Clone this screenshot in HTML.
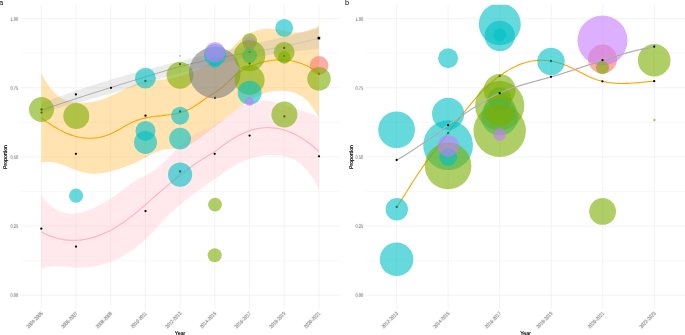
<!DOCTYPE html>
<html><head><meta charset="utf-8"><title>Chart</title>
<style>
html,body{margin:0;padding:0;background:#fff;}
body{width:685px;height:335px;overflow:hidden;font-family:"Liberation Sans",sans-serif;}
svg{display:block;font-family:"Liberation Sans",sans-serif;}
text{text-rendering:geometricPrecision;}
</style></head><body>
<svg width="685" height="335" viewBox="0 0 685 335">
<rect width="685" height="335" fill="#ffffff"/>
<line x1="20.59" x2="339.73" y1="295.20" y2="295.20" stroke="#e9e9e9" stroke-width="0.55"/>
<line x1="20.59" x2="339.73" y1="260.62" y2="260.62" stroke="#e9e9e9" stroke-width="0.32"/>
<line x1="20.59" x2="339.73" y1="226.05" y2="226.05" stroke="#e9e9e9" stroke-width="0.55"/>
<line x1="20.59" x2="339.73" y1="191.47" y2="191.47" stroke="#e9e9e9" stroke-width="0.32"/>
<line x1="20.59" x2="339.73" y1="156.90" y2="156.90" stroke="#e9e9e9" stroke-width="0.55"/>
<line x1="20.59" x2="339.73" y1="122.32" y2="122.32" stroke="#e9e9e9" stroke-width="0.32"/>
<line x1="20.59" x2="339.73" y1="87.75" y2="87.75" stroke="#e9e9e9" stroke-width="0.55"/>
<line x1="20.59" x2="339.73" y1="53.17" y2="53.17" stroke="#e9e9e9" stroke-width="0.32"/>
<line x1="20.59" x2="339.73" y1="18.60" y2="18.60" stroke="#e9e9e9" stroke-width="0.55"/>
<line x1="41.40" x2="41.40" y1="4.77" y2="309.03" stroke="#e9e9e9" stroke-width="0.55"/>
<line x1="76.09" x2="76.09" y1="4.77" y2="309.03" stroke="#e9e9e9" stroke-width="0.55"/>
<line x1="110.78" x2="110.78" y1="4.77" y2="309.03" stroke="#e9e9e9" stroke-width="0.55"/>
<line x1="145.47" x2="145.47" y1="4.77" y2="309.03" stroke="#e9e9e9" stroke-width="0.55"/>
<line x1="180.16" x2="180.16" y1="4.77" y2="309.03" stroke="#e9e9e9" stroke-width="0.55"/>
<line x1="214.85" x2="214.85" y1="4.77" y2="309.03" stroke="#e9e9e9" stroke-width="0.55"/>
<line x1="249.54" x2="249.54" y1="4.77" y2="309.03" stroke="#e9e9e9" stroke-width="0.55"/>
<line x1="284.23" x2="284.23" y1="4.77" y2="309.03" stroke="#e9e9e9" stroke-width="0.55"/>
<line x1="318.92" x2="318.92" y1="4.77" y2="309.03" stroke="#e9e9e9" stroke-width="0.55"/>
<line x1="365.67" x2="685.00" y1="295.20" y2="295.20" stroke="#e9e9e9" stroke-width="0.55"/>
<line x1="365.67" x2="685.00" y1="260.62" y2="260.62" stroke="#e9e9e9" stroke-width="0.32"/>
<line x1="365.67" x2="685.00" y1="226.05" y2="226.05" stroke="#e9e9e9" stroke-width="0.55"/>
<line x1="365.67" x2="685.00" y1="191.47" y2="191.47" stroke="#e9e9e9" stroke-width="0.32"/>
<line x1="365.67" x2="685.00" y1="156.90" y2="156.90" stroke="#e9e9e9" stroke-width="0.55"/>
<line x1="365.67" x2="685.00" y1="122.32" y2="122.32" stroke="#e9e9e9" stroke-width="0.32"/>
<line x1="365.67" x2="685.00" y1="87.75" y2="87.75" stroke="#e9e9e9" stroke-width="0.55"/>
<line x1="365.67" x2="685.00" y1="53.17" y2="53.17" stroke="#e9e9e9" stroke-width="0.32"/>
<line x1="365.67" x2="685.00" y1="18.60" y2="18.60" stroke="#e9e9e9" stroke-width="0.55"/>
<line x1="396.60" x2="396.60" y1="4.77" y2="309.03" stroke="#e9e9e9" stroke-width="0.55"/>
<line x1="448.15" x2="448.15" y1="4.77" y2="309.03" stroke="#e9e9e9" stroke-width="0.55"/>
<line x1="499.70" x2="499.70" y1="4.77" y2="309.03" stroke="#e9e9e9" stroke-width="0.55"/>
<line x1="551.25" x2="551.25" y1="4.77" y2="309.03" stroke="#e9e9e9" stroke-width="0.55"/>
<line x1="602.80" x2="602.80" y1="4.77" y2="309.03" stroke="#e9e9e9" stroke-width="0.55"/>
<line x1="654.35" x2="654.35" y1="4.77" y2="309.03" stroke="#e9e9e9" stroke-width="0.55"/>
<path d="M41.50,72.71 L42.89,75.64 L44.29,78.37 L45.68,80.90 L47.08,83.24 L48.47,85.40 L49.86,87.38 L51.26,89.19 L52.65,90.84 L54.05,92.34 L55.44,93.70 L56.83,94.93 L58.23,96.02 L59.62,97.00 L61.02,97.87 L62.41,98.64 L63.80,99.31 L65.20,99.90 L66.59,100.41 L67.99,100.85 L69.38,101.23 L70.77,101.56 L72.17,101.84 L73.56,102.08 L74.96,102.29 L76.35,102.45 L77.74,102.58 L79.14,102.68 L80.53,102.73 L81.93,102.76 L83.32,102.74 L84.71,102.69 L86.11,102.61 L87.50,102.49 L88.89,102.34 L90.29,102.16 L91.68,101.95 L93.08,101.70 L94.47,101.43 L95.86,101.12 L97.26,100.78 L98.65,100.41 L100.05,100.02 L101.44,99.59 L102.83,99.14 L104.23,98.66 L105.62,98.15 L107.02,97.62 L108.41,97.06 L109.80,96.47 L111.20,95.86 L112.59,95.22 L113.99,94.56 L115.38,93.88 L116.77,93.18 L118.17,92.47 L119.56,91.74 L120.96,91.00 L122.35,90.27 L123.74,89.53 L125.14,88.79 L126.53,88.06 L127.93,87.34 L129.32,86.64 L130.71,85.95 L132.11,85.29 L133.50,84.65 L134.90,84.04 L136.29,83.46 L137.68,82.92 L139.08,82.42 L140.47,81.97 L141.87,81.56 L143.26,81.20 L144.65,80.90 L146.05,80.65 L147.44,80.46 L148.84,80.32 L150.23,80.21 L151.62,80.14 L153.02,80.08 L154.41,80.04 L155.81,80.00 L157.20,79.95 L158.59,79.89 L159.99,79.81 L161.38,79.70 L162.78,79.57 L164.17,79.41 L165.56,79.24 L166.96,79.04 L168.35,78.81 L169.75,78.57 L171.14,78.31 L172.53,78.02 L173.93,77.71 L175.32,77.39 L176.72,77.04 L178.11,76.68 L179.50,76.29 L180.90,75.89 L182.29,75.47 L183.68,75.03 L185.08,74.57 L186.47,74.09 L187.87,73.59 L189.26,73.08 L190.65,72.55 L192.05,72.00 L193.44,71.43 L194.84,70.85 L196.23,70.25 L197.62,69.63 L199.02,68.99 L200.41,68.34 L201.81,67.66 L203.20,66.97 L204.59,66.27 L205.99,65.54 L207.38,64.80 L208.78,64.05 L210.17,63.27 L211.56,62.48 L212.96,61.68 L214.35,60.85 L215.75,60.01 L217.14,59.16 L218.53,58.28 L219.93,57.40 L221.32,56.49 L222.72,55.57 L224.11,54.63 L225.50,53.64 L226.90,52.60 L228.29,51.49 L229.69,50.29 L231.08,48.99 L232.47,47.60 L233.87,46.17 L235.26,44.71 L236.66,43.27 L238.05,41.87 L239.44,40.54 L240.84,39.30 L242.23,38.16 L243.63,37.10 L245.02,36.12 L246.41,35.21 L247.81,34.39 L249.20,33.63 L250.60,32.93 L251.99,32.30 L253.38,31.72 L254.78,31.20 L256.17,30.73 L257.57,30.30 L258.96,29.92 L260.35,29.59 L261.75,29.31 L263.14,29.08 L264.54,28.89 L265.93,28.75 L267.32,28.65 L268.72,28.61 L270.11,28.61 L271.51,28.65 L272.90,28.75 L274.29,28.89 L275.69,29.07 L277.08,29.30 L278.47,29.55 L279.87,29.84 L281.26,30.14 L282.66,30.45 L284.05,30.76 L285.44,31.07 L286.84,31.37 L288.23,31.65 L289.63,31.90 L291.02,32.11 L292.41,32.29 L293.81,32.41 L295.20,32.47 L296.60,32.48 L297.99,32.42 L299.38,32.31 L300.78,32.14 L302.17,31.93 L303.57,31.65 L304.96,31.33 L306.35,30.96 L307.75,30.54 L309.14,30.08 L310.54,29.57 L311.93,29.02 L313.32,28.43 L314.72,27.80 L316.11,27.14 L317.51,26.43 L318.90,25.70 L318.90,118.00 L317.51,115.43 L316.11,112.98 L314.72,110.68 L313.32,108.52 L311.93,106.50 L310.54,104.63 L309.14,102.91 L307.75,101.34 L306.35,99.92 L304.96,98.66 L303.57,97.53 L302.17,96.54 L300.78,95.66 L299.38,94.89 L297.99,94.22 L296.60,93.63 L295.20,93.12 L293.81,92.67 L292.41,92.27 L291.02,91.92 L289.63,91.61 L288.23,91.35 L286.84,91.13 L285.44,90.95 L284.05,90.82 L282.66,90.73 L281.26,90.68 L279.87,90.68 L278.47,90.71 L277.08,90.79 L275.69,90.91 L274.29,91.06 L272.90,91.26 L271.51,91.50 L270.11,91.78 L268.72,92.10 L267.32,92.46 L265.93,92.86 L264.54,93.30 L263.14,93.77 L261.75,94.28 L260.35,94.83 L258.96,95.42 L257.57,96.05 L256.17,96.71 L254.78,97.41 L253.38,98.15 L251.99,98.92 L250.60,99.73 L249.20,100.57 L247.81,101.45 L246.41,102.36 L245.02,103.30 L243.63,104.27 L242.23,105.26 L240.84,106.27 L239.44,107.30 L238.05,108.35 L236.66,109.41 L235.26,110.49 L233.87,111.57 L232.47,112.67 L231.08,113.77 L229.69,114.87 L228.29,115.98 L226.90,117.09 L225.50,118.20 L224.11,119.31 L222.72,120.43 L221.32,121.54 L219.93,122.65 L218.53,123.75 L217.14,124.86 L215.75,125.95 L214.35,127.04 L212.96,128.13 L211.56,129.21 L210.17,130.28 L208.78,131.34 L207.38,132.40 L205.99,133.45 L204.59,134.49 L203.20,135.53 L201.81,136.55 L200.41,137.58 L199.02,138.59 L197.62,139.60 L196.23,140.59 L194.84,141.57 L193.44,142.52 L192.05,143.43 L190.65,144.29 L189.26,145.10 L187.87,145.84 L186.47,146.51 L185.08,147.09 L183.68,147.58 L182.29,147.96 L180.90,148.25 L179.50,148.46 L178.11,148.60 L176.72,148.68 L175.32,148.73 L173.93,148.76 L172.53,148.77 L171.14,148.80 L169.75,148.84 L168.35,148.93 L166.96,149.06 L165.56,149.26 L164.17,149.52 L162.78,149.84 L161.38,150.21 L159.99,150.65 L158.59,151.13 L157.20,151.67 L155.81,152.25 L154.41,152.87 L153.02,153.54 L151.62,154.24 L150.23,154.98 L148.84,155.73 L147.44,156.51 L146.05,157.29 L144.65,158.07 L143.26,158.84 L141.87,159.60 L140.47,160.34 L139.08,161.05 L137.68,161.73 L136.29,162.38 L134.90,163.00 L133.50,163.61 L132.11,164.19 L130.71,164.75 L129.32,165.29 L127.93,165.82 L126.53,166.33 L125.14,166.83 L123.74,167.31 L122.35,167.79 L120.96,168.25 L119.56,168.71 L118.17,169.16 L116.77,169.59 L115.38,170.01 L113.99,170.42 L112.59,170.81 L111.20,171.19 L109.80,171.54 L108.41,171.87 L107.02,172.19 L105.62,172.47 L104.23,172.73 L102.83,172.97 L101.44,173.17 L100.05,173.34 L98.65,173.49 L97.26,173.59 L95.86,173.67 L94.47,173.70 L93.08,173.70 L91.68,173.66 L90.29,173.58 L88.89,173.45 L87.50,173.28 L86.11,173.06 L84.71,172.79 L83.32,172.48 L81.93,172.12 L80.53,171.71 L79.14,171.27 L77.74,170.80 L76.35,170.30 L74.96,169.78 L73.56,169.24 L72.17,168.68 L70.77,168.12 L69.38,167.55 L67.99,166.99 L66.59,166.43 L65.20,165.88 L63.80,165.35 L62.41,164.83 L61.02,164.34 L59.62,163.89 L58.23,163.46 L56.83,163.08 L55.44,162.74 L54.05,162.44 L52.65,162.21 L51.26,162.03 L49.86,161.91 L48.47,161.86 L47.08,161.88 L45.68,161.98 L44.29,162.17 L42.89,162.44 L41.50,162.80Z" fill="#FFA500" fill-opacity="0.3"/>
<path d="M41.30,195.10 L42.69,197.00 L44.09,198.77 L45.48,200.43 L46.88,201.97 L48.27,203.41 L49.67,204.73 L51.06,205.95 L52.46,207.06 L53.85,208.08 L55.25,209.00 L56.64,209.83 L58.04,210.56 L59.43,211.21 L60.83,211.78 L62.22,212.27 L63.62,212.67 L65.01,213.01 L66.41,213.27 L67.80,213.46 L69.20,213.59 L70.59,213.65 L71.99,213.66 L73.38,213.61 L74.78,213.50 L76.17,213.35 L77.57,213.15 L78.96,212.90 L80.36,212.62 L81.75,212.29 L83.15,211.93 L84.54,211.54 L85.94,211.11 L87.33,210.65 L88.73,210.15 L90.12,209.63 L91.52,209.07 L92.91,208.48 L94.31,207.86 L95.70,207.22 L97.10,206.54 L98.49,205.84 L99.89,205.11 L101.28,204.36 L102.68,203.58 L104.07,202.77 L105.47,201.94 L106.86,201.09 L108.26,200.22 L109.65,199.32 L111.05,198.41 L112.44,197.47 L113.84,196.51 L115.23,195.54 L116.63,194.55 L118.02,193.54 L119.42,192.51 L120.81,191.47 L122.21,190.42 L123.60,189.36 L125.00,188.30 L126.39,187.24 L127.79,186.20 L129.18,185.17 L130.58,184.16 L131.97,183.18 L133.37,182.23 L134.76,181.32 L136.16,180.45 L137.55,179.64 L138.95,178.86 L140.34,178.12 L141.74,177.40 L143.13,176.70 L144.53,176.00 L145.92,175.30 L147.32,174.58 L148.71,173.83 L150.11,173.06 L151.50,172.23 L152.90,171.36 L154.29,170.42 L155.69,169.40 L157.08,168.31 L158.48,167.16 L159.87,165.94 L161.27,164.67 L162.66,163.35 L164.06,162.00 L165.45,160.60 L166.85,159.18 L168.24,157.73 L169.64,156.27 L171.03,154.81 L172.43,153.34 L173.82,151.87 L175.22,150.42 L176.61,148.98 L178.01,147.57 L179.40,146.18 L180.80,144.84 L182.19,143.53 L183.59,142.27 L184.98,141.05 L186.38,139.90 L187.77,138.80 L189.17,137.76 L190.56,136.79 L191.96,135.90 L193.35,135.06 L194.75,134.29 L196.14,133.56 L197.54,132.87 L198.93,132.21 L200.33,131.58 L201.72,130.97 L203.12,130.37 L204.51,129.77 L205.91,129.16 L207.30,128.54 L208.70,127.91 L210.09,127.26 L211.49,126.59 L212.88,125.89 L214.28,125.16 L215.67,124.41 L217.07,123.62 L218.46,122.80 L219.86,121.93 L221.25,121.03 L222.65,120.08 L224.04,119.08 L225.44,118.03 L226.83,116.95 L228.23,115.84 L229.62,114.71 L231.02,113.58 L232.41,112.45 L233.81,111.34 L235.20,110.25 L236.60,109.19 L237.99,108.19 L239.39,107.24 L240.78,106.36 L242.18,105.54 L243.57,104.80 L244.97,104.13 L246.36,103.52 L247.76,102.97 L249.15,102.49 L250.55,102.06 L251.94,101.69 L253.34,101.38 L254.73,101.12 L256.13,100.92 L257.52,100.76 L258.92,100.66 L260.31,100.59 L261.71,100.58 L263.10,100.60 L264.50,100.67 L265.89,100.78 L267.29,100.92 L268.68,101.09 L270.08,101.30 L271.47,101.55 L272.87,101.82 L274.26,102.11 L275.66,102.44 L277.05,102.78 L278.45,103.15 L279.84,103.54 L281.24,103.94 L282.63,104.36 L284.03,104.80 L285.42,105.24 L286.82,105.70 L288.21,106.17 L289.61,106.64 L291.00,107.11 L292.40,107.59 L293.79,108.08 L295.19,108.56 L296.58,109.04 L297.98,109.51 L299.37,109.98 L300.77,110.44 L302.16,110.90 L303.56,111.34 L304.95,111.77 L306.35,112.19 L307.74,112.59 L309.14,112.99 L310.53,113.41 L311.93,113.89 L313.32,114.44 L314.72,115.10 L316.11,115.89 L317.51,116.84 L318.90,117.98 L318.90,188.90 L317.51,186.16 L316.11,183.58 L314.72,181.15 L313.32,178.86 L311.93,176.72 L310.53,174.71 L309.14,172.83 L307.74,171.08 L306.35,169.45 L304.95,167.93 L303.56,166.53 L302.16,165.23 L300.77,164.04 L299.37,162.94 L297.98,161.94 L296.58,161.02 L295.19,160.19 L293.79,159.44 L292.40,158.76 L291.00,158.15 L289.61,157.61 L288.21,157.13 L286.82,156.70 L285.42,156.32 L284.03,155.99 L282.63,155.70 L281.24,155.45 L279.84,155.25 L278.45,155.08 L277.05,154.96 L275.66,154.88 L274.26,154.83 L272.87,154.82 L271.47,154.84 L270.08,154.90 L268.68,154.99 L267.29,155.12 L265.89,155.27 L264.50,155.46 L263.10,155.67 L261.71,155.91 L260.31,156.18 L258.92,156.47 L257.52,156.79 L256.13,157.13 L254.73,157.49 L253.34,157.87 L251.94,158.28 L250.55,158.70 L249.15,159.14 L247.76,159.59 L246.36,160.07 L244.97,160.58 L243.57,161.11 L242.18,161.68 L240.78,162.28 L239.39,162.92 L237.99,163.60 L236.60,164.33 L235.20,165.10 L233.81,165.92 L232.41,166.78 L231.02,167.68 L229.62,168.60 L228.23,169.55 L226.83,170.51 L225.44,171.49 L224.04,172.48 L222.65,173.47 L221.25,174.46 L219.86,175.45 L218.46,176.43 L217.07,177.41 L215.67,178.39 L214.28,179.37 L212.88,180.35 L211.49,181.32 L210.09,182.30 L208.70,183.28 L207.30,184.27 L205.91,185.25 L204.51,186.24 L203.12,187.24 L201.72,188.23 L200.33,189.24 L198.93,190.24 L197.54,191.26 L196.14,192.28 L194.75,193.31 L193.35,194.35 L191.96,195.39 L190.56,196.45 L189.17,197.51 L187.77,198.59 L186.38,199.68 L184.98,200.78 L183.59,201.89 L182.19,203.02 L180.80,204.16 L179.40,205.31 L178.01,206.49 L176.61,207.69 L175.22,208.91 L173.82,210.15 L172.43,211.42 L171.03,212.71 L169.64,214.04 L168.24,215.39 L166.85,216.78 L165.45,218.21 L164.06,219.67 L162.66,221.17 L161.27,222.69 L159.87,224.23 L158.48,225.79 L157.08,227.35 L155.69,228.90 L154.29,230.43 L152.90,231.94 L151.50,233.41 L150.11,234.85 L148.71,236.26 L147.32,237.63 L145.92,238.96 L144.53,240.26 L143.13,241.52 L141.74,242.75 L140.34,243.95 L138.95,245.11 L137.55,246.23 L136.16,247.33 L134.76,248.39 L133.37,249.41 L131.97,250.41 L130.58,251.37 L129.18,252.30 L127.79,253.20 L126.39,254.07 L125.00,254.91 L123.60,255.71 L122.21,256.49 L120.81,257.24 L119.42,257.96 L118.02,258.65 L116.63,259.31 L115.23,259.94 L113.84,260.55 L112.44,261.13 L111.05,261.68 L109.65,262.21 L108.26,262.71 L106.86,263.19 L105.47,263.64 L104.07,264.06 L102.68,264.47 L101.28,264.85 L99.89,265.20 L98.49,265.53 L97.10,265.84 L95.70,266.13 L94.31,266.39 L92.91,266.63 L91.52,266.84 L90.12,267.03 L88.73,267.19 L87.33,267.33 L85.94,267.45 L84.54,267.54 L83.15,267.61 L81.75,267.65 L80.36,267.67 L78.96,267.66 L77.57,267.63 L76.17,267.57 L74.78,267.49 L73.38,267.39 L71.99,267.27 L70.59,267.13 L69.20,267.00 L67.80,266.85 L66.41,266.71 L65.01,266.57 L63.62,266.44 L62.22,266.33 L60.83,266.23 L59.43,266.15 L58.04,266.10 L56.64,266.08 L55.25,266.09 L53.85,266.14 L52.46,266.23 L51.06,266.37 L49.67,266.56 L48.27,266.80 L46.88,267.11 L45.48,267.48 L44.09,267.91 L42.69,268.42 L41.30,269.00Z" fill="#FFB6C1" fill-opacity="0.3"/>
<path d="M41.50,103.30 L42.89,102.75 L44.29,102.21 L45.68,101.67 L47.08,101.13 L48.47,100.60 L49.86,100.07 L51.26,99.54 L52.65,99.02 L54.05,98.50 L55.44,97.98 L56.83,97.46 L58.23,96.95 L59.62,96.44 L61.02,95.94 L62.41,95.43 L63.80,94.93 L65.20,94.44 L66.59,93.94 L67.99,93.45 L69.38,92.96 L70.77,92.47 L72.17,91.99 L73.56,91.51 L74.96,91.03 L76.35,90.56 L77.74,90.08 L79.14,89.61 L80.53,89.15 L81.93,88.68 L83.32,88.22 L84.71,87.76 L86.11,87.30 L87.50,86.85 L88.89,86.40 L90.29,85.95 L91.68,85.50 L93.08,85.05 L94.47,84.61 L95.86,84.17 L97.26,83.73 L98.65,83.30 L100.05,82.87 L101.44,82.44 L102.83,82.01 L104.23,81.58 L105.62,81.16 L107.02,80.74 L108.41,80.32 L109.80,79.90 L111.20,79.48 L112.59,79.07 L113.99,78.66 L115.38,78.25 L116.77,77.84 L118.17,77.44 L119.56,77.03 L120.96,76.63 L122.35,76.23 L123.74,75.83 L125.14,75.44 L126.53,75.05 L127.93,74.65 L129.32,74.26 L130.71,73.88 L132.11,73.49 L133.50,73.10 L134.90,72.72 L136.29,72.34 L137.68,71.96 L139.08,71.58 L140.47,71.21 L141.87,70.83 L143.26,70.46 L144.65,70.09 L146.05,69.72 L147.44,69.35 L148.84,68.98 L150.23,68.62 L151.62,68.25 L153.02,67.89 L154.41,67.53 L155.81,67.17 L157.20,66.81 L158.59,66.45 L159.99,66.10 L161.38,65.74 L162.78,65.39 L164.17,65.04 L165.56,64.68 L166.96,64.33 L168.35,63.99 L169.75,63.64 L171.14,63.29 L172.53,62.95 L173.93,62.60 L175.32,62.26 L176.72,61.92 L178.11,61.58 L179.50,61.24 L180.90,60.90 L182.29,60.56 L183.68,60.22 L185.08,59.89 L186.47,59.55 L187.87,59.21 L189.26,58.88 L190.65,58.55 L192.05,58.22 L193.44,57.88 L194.84,57.55 L196.23,57.22 L197.62,56.89 L199.02,56.56 L200.41,56.24 L201.81,55.91 L203.20,55.58 L204.59,55.26 L205.99,54.93 L207.38,54.60 L208.78,54.28 L210.17,53.95 L211.56,53.63 L212.96,53.31 L214.35,52.98 L215.75,52.66 L217.14,52.34 L218.53,52.02 L219.93,51.70 L221.32,51.37 L222.72,51.05 L224.11,50.73 L225.50,50.41 L226.90,50.09 L228.29,49.77 L229.69,49.45 L231.08,49.13 L232.47,48.81 L233.87,48.49 L235.26,48.17 L236.66,47.85 L238.05,47.53 L239.44,47.21 L240.84,46.89 L242.23,46.57 L243.63,46.25 L245.02,45.93 L246.41,45.61 L247.81,45.29 L249.20,44.97 L250.60,44.65 L251.99,44.33 L253.38,44.01 L254.78,43.68 L256.17,43.36 L257.57,43.04 L258.96,42.72 L260.35,42.39 L261.75,42.07 L263.14,41.75 L264.54,41.42 L265.93,41.10 L267.32,40.77 L268.72,40.45 L270.11,40.12 L271.51,39.80 L272.90,39.47 L274.29,39.14 L275.69,38.81 L277.08,38.48 L278.47,38.15 L279.87,37.82 L281.26,37.49 L282.66,37.16 L284.05,36.83 L285.44,36.49 L286.84,36.16 L288.23,35.83 L289.63,35.49 L291.02,35.15 L292.41,34.82 L293.81,34.48 L295.20,34.14 L296.60,33.80 L297.99,33.46 L299.38,33.11 L300.78,32.77 L302.17,32.43 L303.57,32.08 L304.96,31.73 L306.35,31.39 L307.75,31.04 L309.14,30.69 L310.54,30.33 L311.93,29.98 L313.32,29.63 L314.72,29.27 L316.11,28.92 L317.51,28.56 L318.90,28.20 L318.90,48.70 L317.51,48.85 L316.11,48.99 L314.72,49.15 L313.32,49.30 L311.93,49.45 L310.54,49.61 L309.14,49.76 L307.75,49.92 L306.35,50.08 L304.96,50.24 L303.57,50.40 L302.17,50.57 L300.78,50.73 L299.38,50.90 L297.99,51.07 L296.60,51.24 L295.20,51.41 L293.81,51.58 L292.41,51.76 L291.02,51.93 L289.63,52.11 L288.23,52.29 L286.84,52.47 L285.44,52.66 L284.05,52.84 L282.66,53.03 L281.26,53.22 L279.87,53.41 L278.47,53.60 L277.08,53.80 L275.69,53.99 L274.29,54.19 L272.90,54.39 L271.51,54.59 L270.11,54.80 L268.72,55.00 L267.32,55.21 L265.93,55.42 L264.54,55.64 L263.14,55.85 L261.75,56.07 L260.35,56.28 L258.96,56.50 L257.57,56.73 L256.17,56.95 L254.78,57.18 L253.38,57.41 L251.99,57.64 L250.60,57.87 L249.20,58.11 L247.81,58.35 L246.41,58.59 L245.02,58.83 L243.63,59.07 L242.23,59.32 L240.84,59.57 L239.44,59.82 L238.05,60.08 L236.66,60.33 L235.26,60.59 L233.87,60.85 L232.47,61.12 L231.08,61.38 L229.69,61.65 L228.29,61.92 L226.90,62.20 L225.50,62.47 L224.11,62.75 L222.72,63.03 L221.32,63.32 L219.93,63.60 L218.53,63.89 L217.14,64.18 L215.75,64.48 L214.35,64.78 L212.96,65.08 L211.56,65.38 L210.17,65.68 L208.78,65.99 L207.38,66.30 L205.99,66.62 L204.59,66.93 L203.20,67.25 L201.81,67.58 L200.41,67.90 L199.02,68.23 L197.62,68.56 L196.23,68.89 L194.84,69.23 L193.44,69.57 L192.05,69.91 L190.65,70.26 L189.26,70.61 L187.87,70.96 L186.47,71.31 L185.08,71.67 L183.68,72.03 L182.29,72.40 L180.90,72.76 L179.50,73.13 L178.11,73.51 L176.72,73.88 L175.32,74.26 L173.93,74.64 L172.53,75.03 L171.14,75.42 L169.75,75.81 L168.35,76.20 L166.96,76.60 L165.56,76.99 L164.17,77.39 L162.78,77.80 L161.38,78.20 L159.99,78.61 L158.59,79.01 L157.20,79.42 L155.81,79.84 L154.41,80.25 L153.02,80.67 L151.62,81.08 L150.23,81.50 L148.84,81.92 L147.44,82.34 L146.05,82.76 L144.65,83.18 L143.26,83.61 L141.87,84.03 L140.47,84.46 L139.08,84.89 L137.68,85.31 L136.29,85.74 L134.90,86.17 L133.50,86.59 L132.11,87.02 L130.71,87.45 L129.32,87.87 L127.93,88.30 L126.53,88.73 L125.14,89.15 L123.74,89.57 L122.35,90.00 L120.96,90.42 L119.56,90.84 L118.17,91.26 L116.77,91.68 L115.38,92.09 L113.99,92.51 L112.59,92.92 L111.20,93.33 L109.80,93.74 L108.41,94.14 L107.02,94.55 L105.62,94.95 L104.23,95.35 L102.83,95.75 L101.44,96.15 L100.05,96.54 L98.65,96.94 L97.26,97.33 L95.86,97.72 L94.47,98.11 L93.08,98.50 L91.68,98.89 L90.29,99.28 L88.89,99.66 L87.50,100.05 L86.11,100.44 L84.71,100.82 L83.32,101.21 L81.93,101.59 L80.53,101.98 L79.14,102.36 L77.74,102.74 L76.35,103.13 L74.96,103.51 L73.56,103.90 L72.17,104.29 L70.77,104.67 L69.38,105.06 L67.99,105.45 L66.59,105.84 L65.20,106.23 L63.80,106.62 L62.41,107.01 L61.02,107.40 L59.62,107.80 L58.23,108.19 L56.83,108.59 L55.44,108.99 L54.05,109.39 L52.65,109.79 L51.26,110.20 L49.86,110.61 L48.47,111.02 L47.08,111.43 L45.68,111.84 L44.29,112.26 L42.89,112.68 L41.50,113.10Z" fill="#999999" fill-opacity="0.2"/>
<defs><linearGradient id="gl" gradientUnits="userSpaceOnUse" x1="41.5" y1="0" x2="318.9" y2="0"><stop offset="0" stop-color="#727272"/><stop offset="0.66" stop-color="#7c7c7c"/><stop offset="0.78" stop-color="#a4aecc"/><stop offset="1" stop-color="#b4b8d0"/></linearGradient></defs>
<path d="M41.50,110.20 L42.89,109.72 L44.29,109.24 L45.68,108.76 L47.08,108.28 L48.47,107.81 L49.86,107.33 L51.26,106.86 L52.65,106.39 L54.05,105.92 L55.44,105.45 L56.83,104.98 L58.23,104.51 L59.62,104.05 L61.02,103.58 L62.41,103.12 L63.80,102.66 L65.20,102.20 L66.59,101.73 L67.99,101.28 L69.38,100.82 L70.77,100.36 L72.17,99.90 L73.56,99.45 L74.96,98.99 L76.35,98.54 L77.74,98.08 L79.14,97.63 L80.53,97.18 L81.93,96.73 L83.32,96.28 L84.71,95.83 L86.11,95.38 L87.50,94.94 L88.89,94.49 L90.29,94.04 L91.68,93.60 L93.08,93.15 L94.47,92.71 L95.86,92.27 L97.26,91.82 L98.65,91.38 L100.05,90.94 L101.44,90.50 L102.83,90.06 L104.23,89.62 L105.62,89.18 L107.02,88.75 L108.41,88.31 L109.80,87.87 L111.20,87.44 L112.59,87.00 L113.99,86.57 L115.38,86.13 L116.77,85.70 L118.17,85.26 L119.56,84.83 L120.96,84.40 L122.35,83.96 L123.74,83.53 L125.14,83.10 L126.53,82.67 L127.93,82.24 L129.32,81.81 L130.71,81.38 L132.11,80.95 L133.50,80.52 L134.90,80.09 L136.29,79.66 L137.68,79.23 L139.08,78.80 L140.47,78.37 L141.87,77.94 L143.26,77.51 L144.65,77.09 L146.05,76.66 L147.44,76.23 L148.84,75.80 L150.23,75.38 L151.62,74.95 L153.02,74.52 L154.41,74.10 L155.81,73.68 L157.20,73.26 L158.59,72.83 L159.99,72.42 L161.38,72.00 L162.78,71.58 L164.17,71.17 L165.56,70.76 L166.96,70.35 L168.35,69.95 L169.75,69.54 L171.14,69.14 L172.53,68.74 L173.93,68.35 L175.32,67.96 L176.72,67.57 L178.11,67.19 L179.50,66.81 L180.90,66.43 L182.29,66.06 L183.68,65.69 L185.08,65.32 L186.47,64.97 L187.87,64.61 L189.26,64.26 L190.65,63.92 L192.05,63.58 L193.44,63.24 L194.84,62.91 L196.23,62.59 L197.62,62.26 L199.02,61.95 L200.41,61.64 L201.81,61.33 L203.20,61.02 L204.59,60.72 L205.99,60.43 L207.38,60.14 L208.78,59.85 L210.17,59.56 L211.56,59.28 L212.96,59.00 L214.35,58.73 L215.75,58.46 L217.14,58.19 L218.53,57.92 L219.93,57.66 L221.32,57.40 L222.72,57.14 L224.11,56.88 L225.50,56.63 L226.90,56.37 L228.29,56.12 L229.69,55.87 L231.08,55.63 L232.47,55.38 L233.87,55.14 L235.26,54.89 L236.66,54.65 L238.05,54.41 L239.44,54.17 L240.84,53.93 L242.23,53.70 L243.63,53.46 L245.02,53.22 L246.41,52.98 L247.81,52.75 L249.20,52.51 L250.60,52.27 L251.99,52.04 L253.38,51.80 L254.78,51.56 L256.17,51.33 L257.57,51.09 L258.96,50.85 L260.35,50.61 L261.75,50.37 L263.14,50.12 L264.54,49.88 L265.93,49.64 L267.32,49.39 L268.72,49.14 L270.11,48.89 L271.51,48.64 L272.90,48.39 L274.29,48.13 L275.69,47.87 L277.08,47.61 L278.47,47.35 L279.87,47.08 L281.26,46.82 L282.66,46.55 L284.05,46.27 L285.44,45.99 L286.84,45.71 L288.23,45.43 L289.63,45.14 L291.02,44.85 L292.41,44.56 L293.81,44.26 L295.20,43.96 L296.60,43.65 L297.99,43.34 L299.38,43.03 L300.78,42.71 L302.17,42.39 L303.57,42.06 L304.96,41.73 L306.35,41.39 L307.75,41.05 L309.14,40.70 L310.54,40.34 L311.93,39.99 L313.32,39.62 L314.72,39.25 L316.11,38.88 L317.51,38.49 L318.90,38.11" fill="none" stroke="url(#gl)" stroke-width="0.55" stroke-linejoin="round"/>
<path d="M41.50,118.00 L42.89,119.05 L44.29,120.08 L45.68,121.09 L47.08,122.08 L48.47,123.04 L49.86,123.99 L51.26,124.91 L52.65,125.80 L54.05,126.67 L55.44,127.51 L56.83,128.33 L58.23,129.12 L59.62,129.88 L61.02,130.61 L62.41,131.32 L63.80,131.99 L65.20,132.64 L66.59,133.25 L67.99,133.83 L69.38,134.38 L70.77,134.89 L72.17,135.37 L73.56,135.81 L74.96,136.22 L76.35,136.60 L77.74,136.93 L79.14,137.23 L80.53,137.49 L81.93,137.72 L83.32,137.91 L84.71,138.06 L86.11,138.17 L87.50,138.24 L88.89,138.28 L90.29,138.28 L91.68,138.24 L93.08,138.16 L94.47,138.04 L95.86,137.89 L97.26,137.69 L98.65,137.46 L100.05,137.19 L101.44,136.87 L102.83,136.52 L104.23,136.13 L105.62,135.70 L107.02,135.23 L108.41,134.72 L109.80,134.17 L111.20,133.58 L112.59,132.95 L113.99,132.28 L115.38,131.56 L116.77,130.82 L118.17,130.05 L119.56,129.27 L120.96,128.47 L122.35,127.66 L123.74,126.85 L125.14,126.05 L126.53,125.27 L127.93,124.50 L129.32,123.75 L130.71,123.04 L132.11,122.37 L133.50,121.74 L134.90,121.16 L136.29,120.62 L137.68,120.12 L139.08,119.66 L140.47,119.23 L141.87,118.84 L143.26,118.48 L144.65,118.15 L146.05,117.85 L147.44,117.57 L148.84,117.32 L150.23,117.08 L151.62,116.87 L153.02,116.67 L154.41,116.48 L155.81,116.31 L157.20,116.15 L158.59,115.99 L159.99,115.84 L161.38,115.69 L162.78,115.54 L164.17,115.39 L165.56,115.23 L166.96,115.07 L168.35,114.89 L169.75,114.70 L171.14,114.50 L172.53,114.27 L173.93,114.02 L175.32,113.75 L176.72,113.46 L178.11,113.13 L179.50,112.77 L180.90,112.37 L182.29,111.94 L183.68,111.47 L185.08,110.96 L186.47,110.40 L187.87,109.79 L189.26,109.13 L190.65,108.42 L192.05,107.65 L193.44,106.83 L194.84,105.97 L196.23,105.07 L197.62,104.14 L199.02,103.19 L200.41,102.22 L201.81,101.24 L203.20,100.25 L204.59,99.27 L205.99,98.30 L207.38,97.34 L208.78,96.41 L210.17,95.51 L211.56,94.62 L212.96,93.75 L214.35,92.88 L215.75,91.98 L217.14,91.07 L218.53,90.11 L219.93,89.10 L221.32,88.03 L222.72,86.88 L224.11,85.66 L225.50,84.37 L226.90,83.04 L228.29,81.68 L229.69,80.32 L231.08,78.98 L232.47,77.67 L233.87,76.42 L235.26,75.24 L236.66,74.14 L238.05,73.12 L239.44,72.16 L240.84,71.27 L242.23,70.44 L243.63,69.67 L245.02,68.94 L246.41,68.25 L247.81,67.59 L249.20,66.97 L250.60,66.38 L251.99,65.81 L253.38,65.26 L254.78,64.73 L256.17,64.23 L257.57,63.76 L258.96,63.31 L260.35,62.89 L261.75,62.49 L263.14,62.12 L264.54,61.77 L265.93,61.46 L267.32,61.17 L268.72,60.91 L270.11,60.67 L271.51,60.47 L272.90,60.29 L274.29,60.14 L275.69,60.02 L277.08,59.94 L278.47,59.88 L279.87,59.85 L281.26,59.85 L282.66,59.89 L284.05,59.95 L285.44,60.05 L286.84,60.18 L288.23,60.34 L289.63,60.54 L291.02,60.77 L292.41,61.03 L293.81,61.33 L295.20,61.66 L296.60,62.03 L297.99,62.43 L299.38,62.86 L300.78,63.34 L302.17,63.85 L303.57,64.39 L304.96,64.97 L306.35,65.59 L307.75,66.25 L309.14,66.94 L310.54,67.67 L311.93,68.44 L313.32,69.25 L314.72,70.10 L316.11,70.99 L317.51,71.92 L318.90,72.89" fill="none" stroke="#FFA500" stroke-width="1.1" stroke-linejoin="round"/>
<path d="M41.30,231.89 L42.69,232.64 L44.09,233.34 L45.48,234.01 L46.88,234.65 L48.27,235.25 L49.67,235.82 L51.06,236.35 L52.46,236.85 L53.85,237.32 L55.25,237.75 L56.64,238.15 L58.04,238.51 L59.43,238.84 L60.83,239.15 L62.22,239.41 L63.62,239.65 L65.01,239.85 L66.41,240.02 L67.80,240.16 L69.20,240.27 L70.59,240.35 L71.99,240.40 L73.38,240.41 L74.78,240.40 L76.17,240.35 L77.57,240.27 L78.96,240.17 L80.36,240.03 L81.75,239.87 L83.15,239.67 L84.54,239.45 L85.94,239.20 L87.33,238.91 L88.73,238.60 L90.12,238.27 L91.52,237.90 L92.91,237.50 L94.31,237.08 L95.70,236.63 L97.10,236.16 L98.49,235.65 L99.89,235.12 L101.28,234.56 L102.68,233.98 L104.07,233.37 L105.47,232.73 L106.86,232.07 L108.26,231.38 L109.65,230.67 L111.05,229.93 L112.44,229.16 L113.84,228.37 L115.23,227.56 L116.63,226.72 L118.02,225.86 L119.42,224.97 L120.81,224.06 L122.21,223.13 L123.60,222.17 L125.00,221.19 L126.39,220.19 L127.79,219.16 L129.18,218.11 L130.58,217.04 L131.97,215.96 L133.37,214.85 L134.76,213.73 L136.16,212.59 L137.55,211.44 L138.95,210.28 L140.34,209.10 L141.74,207.91 L143.13,206.72 L144.53,205.51 L145.92,204.30 L147.32,203.08 L148.71,201.85 L150.11,200.62 L151.50,199.39 L152.90,198.15 L154.29,196.92 L155.69,195.69 L157.08,194.45 L158.48,193.22 L159.87,192.00 L161.27,190.78 L162.66,189.57 L164.06,188.36 L165.45,187.16 L166.85,185.97 L168.24,184.80 L169.64,183.63 L171.03,182.47 L172.43,181.32 L173.82,180.18 L175.22,179.05 L176.61,177.93 L178.01,176.82 L179.40,175.72 L180.80,174.63 L182.19,173.55 L183.59,172.48 L184.98,171.42 L186.38,170.37 L187.77,169.33 L189.17,168.30 L190.56,167.28 L191.96,166.26 L193.35,165.26 L194.75,164.27 L196.14,163.30 L197.54,162.34 L198.93,161.39 L200.33,160.46 L201.72,159.55 L203.12,158.66 L204.51,157.79 L205.91,156.94 L207.30,156.11 L208.70,155.29 L210.09,154.46 L211.49,153.62 L212.88,152.75 L214.28,151.85 L215.67,150.90 L217.07,149.91 L218.46,148.89 L219.86,147.85 L221.25,146.80 L222.65,145.75 L224.04,144.71 L225.44,143.70 L226.83,142.71 L228.23,141.75 L229.62,140.82 L231.02,139.91 L232.41,139.03 L233.81,138.18 L235.20,137.36 L236.60,136.57 L237.99,135.81 L239.39,135.08 L240.78,134.38 L242.18,133.72 L243.57,133.08 L244.97,132.48 L246.36,131.92 L247.76,131.39 L249.15,130.89 L250.55,130.43 L251.94,130.00 L253.34,129.61 L254.73,129.25 L256.13,128.93 L257.52,128.65 L258.92,128.40 L260.31,128.19 L261.71,128.02 L263.10,127.87 L264.50,127.77 L265.89,127.70 L267.29,127.67 L268.68,127.67 L270.08,127.71 L271.47,127.78 L272.87,127.89 L274.26,128.04 L275.66,128.22 L277.05,128.43 L278.45,128.68 L279.84,128.97 L281.24,129.30 L282.63,129.65 L284.03,130.05 L285.42,130.48 L286.82,130.95 L288.21,131.45 L289.61,131.98 L291.00,132.56 L292.40,133.17 L293.79,133.81 L295.19,134.49 L296.58,135.21 L297.98,135.96 L299.37,136.74 L300.77,137.57 L302.16,138.42 L303.56,139.32 L304.95,140.25 L306.35,141.21 L307.74,142.21 L309.14,143.25 L310.53,144.32 L311.93,145.43 L313.32,146.57 L314.72,147.75 L316.11,148.96 L317.51,150.21 L318.90,151.50" fill="none" stroke="#FFB6C1" stroke-width="1.2" stroke-linejoin="round"/>
<rect x="317.6" y="36.8" width="2.6" height="2.6" fill="#000"/>
<circle cx="41.50" cy="109.50" r="1.15" fill="#000"/>
<circle cx="41.50" cy="112.60" r="1.15" fill="#000"/>
<circle cx="75.90" cy="94.40" r="1.15" fill="#000"/>
<circle cx="111.00" cy="87.80" r="1.15" fill="#000"/>
<circle cx="145.40" cy="80.90" r="1.15" fill="#000"/>
<circle cx="180.00" cy="64.20" r="1.15" fill="#000"/>
<circle cx="249.60" cy="51.90" r="1.15" fill="#000"/>
<circle cx="249.60" cy="63.50" r="1.15" fill="#000"/>
<circle cx="284.20" cy="47.90" r="1.15" fill="#000"/>
<circle cx="284.20" cy="56.00" r="1.15" fill="#000"/>
<circle cx="319.00" cy="73.80" r="1.15" fill="#000"/>
<circle cx="75.90" cy="153.80" r="1.15" fill="#000"/>
<circle cx="145.50" cy="115.70" r="1.15" fill="#000"/>
<circle cx="180.10" cy="111.50" r="1.15" fill="#000"/>
<circle cx="215.00" cy="97.80" r="1.15" fill="#000"/>
<circle cx="41.30" cy="228.70" r="1.15" fill="#000"/>
<circle cx="76.00" cy="246.60" r="1.15" fill="#000"/>
<circle cx="145.50" cy="211.10" r="1.15" fill="#000"/>
<circle cx="180.10" cy="171.50" r="1.15" fill="#000"/>
<circle cx="214.70" cy="153.80" r="1.15" fill="#000"/>
<circle cx="249.60" cy="135.60" r="1.15" fill="#000"/>
<circle cx="284.40" cy="116.40" r="1.15" fill="#000"/>
<circle cx="319.00" cy="156.30" r="1.15" fill="#000"/>
<circle cx="41.50" cy="109.50" r="12.50" fill="#7CAE00" fill-opacity="0.6"/>
<circle cx="76.30" cy="116.00" r="13.00" fill="#7CAE00" fill-opacity="0.6"/>
<circle cx="76.10" cy="195.70" r="7.10" fill="#00BFC4" fill-opacity="0.6"/>
<circle cx="145.40" cy="78.20" r="10.40" fill="#00BFC4" fill-opacity="0.6"/>
<circle cx="145.50" cy="130.90" r="10.00" fill="#00BFC4" fill-opacity="0.6"/>
<circle cx="145.50" cy="142.40" r="11.50" fill="#00BFC4" fill-opacity="0.6"/>
<circle cx="180.00" cy="75.30" r="13.40" fill="#7CAE00" fill-opacity="0.6"/>
<circle cx="180.00" cy="55.80" r="0.90" fill="#00BFC4" fill-opacity="0.6"/>
<circle cx="180.10" cy="115.70" r="9.00" fill="#00BFC4" fill-opacity="0.6"/>
<circle cx="180.10" cy="138.60" r="10.90" fill="#00BFC4" fill-opacity="0.6"/>
<circle cx="180.10" cy="174.60" r="12.10" fill="#00BFC4" fill-opacity="0.6"/>
<circle cx="214.80" cy="72.60" r="25.80" fill="#7f7f7f" fill-opacity="0.6"/>
<circle cx="215.00" cy="54.90" r="11.00" fill="#00BFC4" fill-opacity="0.6"/>
<circle cx="215.00" cy="62.30" r="5.50" fill="#00BFC4" fill-opacity="0.6"/>
<circle cx="215.00" cy="52.20" r="10.20" fill="#C77CFF" fill-opacity="0.6"/>
<circle cx="215.00" cy="204.60" r="6.90" fill="#7CAE00" fill-opacity="0.6"/>
<circle cx="214.70" cy="255.30" r="7.00" fill="#7CAE00" fill-opacity="0.6"/>
<circle cx="249.60" cy="40.70" r="7.50" fill="#7CAE00" fill-opacity="0.6"/>
<circle cx="249.60" cy="43.70" r="6.70" fill="#C77CFF" fill-opacity="0.6"/>
<circle cx="249.60" cy="55.60" r="7.50" fill="#00BFC4" fill-opacity="0.6"/>
<circle cx="249.60" cy="55.60" r="15.70" fill="#7CAE00" fill-opacity="0.6"/>
<circle cx="249.60" cy="80.00" r="15.00" fill="#7CAE00" fill-opacity="0.6"/>
<circle cx="249.60" cy="92.70" r="12.00" fill="#00BFC4" fill-opacity="0.6"/>
<circle cx="249.60" cy="101.40" r="4.30" fill="#C77CFF" fill-opacity="0.6"/>
<circle cx="284.20" cy="27.90" r="8.90" fill="#00BFC4" fill-opacity="0.6"/>
<circle cx="284.20" cy="52.40" r="10.40" fill="#7CAE00" fill-opacity="0.6"/>
<circle cx="284.20" cy="57.40" r="6.30" fill="#7CAE00" fill-opacity="0.6"/>
<circle cx="284.40" cy="114.60" r="13.00" fill="#7CAE00" fill-opacity="0.6"/>
<circle cx="319.10" cy="65.40" r="9.30" fill="#F8766D" fill-opacity="0.6"/>
<circle cx="319.00" cy="78.80" r="11.80" fill="#7CAE00" fill-opacity="0.6"/>
<path d="M396.70,206.90 L397.99,205.00 L399.29,203.07 L400.58,201.11 L401.88,199.12 L403.17,197.11 L404.46,195.09 L405.76,193.05 L407.05,191.00 L408.35,188.95 L409.64,186.90 L410.93,184.85 L412.23,182.80 L413.52,180.77 L414.82,178.75 L416.11,176.76 L417.40,174.78 L418.70,172.83 L419.99,170.91 L421.29,169.03 L422.58,167.18 L423.87,165.36 L425.17,163.57 L426.46,161.80 L427.76,160.06 L429.05,158.33 L430.34,156.61 L431.64,154.90 L432.93,153.19 L434.23,151.49 L435.52,149.78 L436.81,148.07 L438.11,146.35 L439.40,144.63 L440.69,142.90 L441.99,141.18 L443.28,139.45 L444.58,137.72 L445.87,135.99 L447.16,134.26 L448.46,132.53 L449.75,130.81 L451.05,129.09 L452.34,127.38 L453.63,125.67 L454.93,123.97 L456.22,122.28 L457.52,120.59 L458.81,118.92 L460.10,117.25 L461.40,115.60 L462.69,113.96 L463.99,112.33 L465.28,110.72 L466.57,109.12 L467.87,107.54 L469.16,105.97 L470.46,104.43 L471.75,102.90 L473.04,101.39 L474.34,99.90 L475.63,98.44 L476.93,96.99 L478.22,95.57 L479.51,94.18 L480.81,92.81 L482.10,91.46 L483.40,90.14 L484.69,88.85 L485.98,87.59 L487.28,86.36 L488.57,85.15 L489.87,83.97 L491.16,82.81 L492.45,81.69 L493.75,80.59 L495.04,79.52 L496.34,78.48 L497.63,77.47 L498.92,76.48 L500.22,75.52 L501.51,74.59 L502.81,73.69 L504.10,72.82 L505.39,71.98 L506.69,71.16 L507.98,70.37 L509.28,69.62 L510.57,68.89 L511.86,68.19 L513.16,67.52 L514.45,66.88 L515.75,66.26 L517.04,65.68 L518.33,65.13 L519.63,64.60 L520.92,64.11 L522.22,63.64 L523.51,63.21 L524.80,62.80 L526.10,62.43 L527.39,62.08 L528.68,61.77 L529.98,61.48 L531.27,61.23 L532.57,61.00 L533.86,60.81 L535.15,60.65 L536.45,60.51 L537.74,60.41 L539.04,60.34 L540.33,60.30 L541.62,60.29 L542.92,60.31 L544.21,60.37 L545.51,60.45 L546.80,60.56 L548.09,60.70 L549.39,60.86 L550.68,61.06 L551.98,61.29 L553.27,61.54 L554.56,61.82 L555.86,62.12 L557.15,62.45 L558.45,62.81 L559.74,63.19 L561.03,63.60 L562.33,64.04 L563.62,64.49 L564.92,64.98 L566.21,65.48 L567.50,66.01 L568.80,66.56 L570.09,67.14 L571.39,67.74 L572.68,68.35 L573.97,68.99 L575.27,69.64 L576.56,70.31 L577.86,70.98 L579.15,71.66 L580.44,72.34 L581.74,73.02 L583.03,73.70 L584.33,74.36 L585.62,75.02 L586.91,75.66 L588.21,76.29 L589.50,76.89 L590.80,77.47 L592.09,78.02 L593.38,78.54 L594.68,79.03 L595.97,79.49 L597.27,79.92 L598.56,80.32 L599.85,80.69 L601.15,81.04 L602.44,81.35 L603.74,81.65 L605.03,81.91 L606.32,82.16 L607.62,82.38 L608.91,82.57 L610.21,82.75 L611.50,82.90 L612.79,83.04 L614.09,83.15 L615.38,83.24 L616.67,83.32 L617.97,83.38 L619.26,83.42 L620.56,83.45 L621.85,83.46 L623.14,83.46 L624.44,83.45 L625.73,83.42 L627.03,83.38 L628.32,83.33 L629.61,83.27 L630.91,83.20 L632.20,83.12 L633.50,83.03 L634.79,82.94 L636.08,82.84 L637.38,82.73 L638.67,82.62 L639.97,82.50 L641.26,82.39 L642.55,82.27 L643.85,82.14 L645.14,82.02 L646.44,81.90 L647.73,81.78 L649.02,81.66 L650.32,81.54 L651.61,81.42 L652.91,81.31 L654.20,81.20" fill="none" stroke="#FFA500" stroke-width="1.1" stroke-linejoin="round"/>
<circle cx="396.70" cy="206.90" r="1.15" fill="#000"/>
<circle cx="448.10" cy="133.10" r="1.15" fill="#000"/>
<circle cx="499.70" cy="76.00" r="1.15" fill="#000"/>
<circle cx="551.00" cy="61.00" r="1.15" fill="#000"/>
<circle cx="602.40" cy="81.30" r="1.15" fill="#000"/>
<circle cx="654.20" cy="81.20" r="1.15" fill="#000"/>
<clipPath id="cpR"><rect x="360" y="4.77" width="330" height="304.26"/></clipPath>
<g clip-path="url(#cpR)">
<circle cx="396.60" cy="129.80" r="18.40" fill="#00BFC4" fill-opacity="0.6"/>
<circle cx="396.80" cy="209.30" r="11.20" fill="#00BFC4" fill-opacity="0.6"/>
<circle cx="396.60" cy="259.30" r="16.80" fill="#00BFC4" fill-opacity="0.6"/>
<circle cx="448.10" cy="58.30" r="10.00" fill="#00BFC4" fill-opacity="0.6"/>
<circle cx="448.10" cy="113.80" r="16.10" fill="#00BFC4" fill-opacity="0.6"/>
<circle cx="448.10" cy="145.20" r="24.90" fill="#00BFC4" fill-opacity="0.6"/>
<circle cx="448.10" cy="165.90" r="23.30" fill="#7CAE00" fill-opacity="0.6"/>
<circle cx="448.20" cy="157.00" r="8.80" fill="#00BFC4" fill-opacity="0.6"/>
<circle cx="448.20" cy="145.90" r="10.75" fill="#C77CFF" fill-opacity="0.6"/>
<circle cx="499.80" cy="24.20" r="21.00" fill="#00BFC4" fill-opacity="0.6"/>
<circle cx="499.80" cy="36.00" r="15.20" fill="#00BFC4" fill-opacity="0.6"/>
<circle cx="499.70" cy="34.90" r="6.40" fill="#00BFC4" fill-opacity="0.6"/>
<circle cx="499.70" cy="99.00" r="11.80" fill="#00BFC4" fill-opacity="0.6"/>
<circle cx="499.70" cy="90.00" r="16.00" fill="#7CAE00" fill-opacity="0.6"/>
<circle cx="499.70" cy="105.70" r="24.60" fill="#7CAE00" fill-opacity="0.6"/>
<circle cx="499.70" cy="116.80" r="18.50" fill="#00BFC4" fill-opacity="0.6"/>
<circle cx="499.70" cy="110.00" r="15.80" fill="#7CAE00" fill-opacity="0.6"/>
<circle cx="499.70" cy="130.70" r="26.20" fill="#7CAE00" fill-opacity="0.6"/>
<circle cx="499.70" cy="134.50" r="6.40" fill="#C77CFF" fill-opacity="0.6"/>
<circle cx="551.00" cy="61.50" r="13.70" fill="#00BFC4" fill-opacity="0.6"/>
<circle cx="602.50" cy="58.90" r="14.50" fill="#F8766D" fill-opacity="0.6"/>
<circle cx="602.50" cy="40.50" r="25.00" fill="#C77CFF" fill-opacity="0.6"/>
<circle cx="602.50" cy="67.60" r="6.60" fill="#7CAE00" fill-opacity="0.6"/>
<circle cx="602.60" cy="211.40" r="13.40" fill="#7CAE00" fill-opacity="0.6"/>
<circle cx="654.20" cy="60.20" r="16.30" fill="#7CAE00" fill-opacity="0.6"/>
<circle cx="654.40" cy="120.00" r="1.30" fill="#7CAE00" fill-opacity="0.6"/>
</g>
<path d="M396.60,160.00 L397.89,159.26 L399.19,158.51 L400.48,157.75 L401.78,156.98 L403.07,156.20 L404.37,155.41 L405.66,154.61 L406.96,153.80 L408.25,152.99 L409.54,152.16 L410.84,151.32 L412.13,150.48 L413.43,149.63 L414.72,148.77 L416.02,147.90 L417.31,147.03 L418.61,146.15 L419.90,145.27 L421.19,144.38 L422.49,143.48 L423.78,142.58 L425.08,141.68 L426.37,140.77 L427.67,139.86 L428.96,138.94 L430.26,138.02 L431.55,137.10 L432.85,136.17 L434.14,135.25 L435.43,134.32 L436.73,133.39 L438.02,132.46 L439.32,131.52 L440.61,130.59 L441.91,129.66 L443.20,128.72 L444.50,127.79 L445.79,126.86 L447.08,125.93 L448.38,125.00 L449.67,124.07 L450.97,123.15 L452.26,122.23 L453.56,121.31 L454.85,120.39 L456.15,119.48 L457.44,118.57 L458.73,117.66 L460.03,116.76 L461.32,115.87 L462.62,114.98 L463.91,114.09 L465.21,113.22 L466.50,112.34 L467.80,111.48 L469.09,110.62 L470.38,109.77 L471.68,108.93 L472.97,108.09 L474.27,107.26 L475.56,106.45 L476.86,105.64 L478.15,104.84 L479.45,104.05 L480.74,103.27 L482.04,102.50 L483.33,101.74 L484.62,100.99 L485.92,100.25 L487.21,99.53 L488.51,98.81 L489.80,98.11 L491.10,97.42 L492.39,96.75 L493.69,96.09 L494.98,95.44 L496.27,94.81 L497.57,94.19 L498.86,93.58 L500.16,92.99 L501.45,92.42 L502.75,91.86 L504.04,91.31 L505.34,90.78 L506.63,90.26 L507.92,89.76 L509.22,89.26 L510.51,88.78 L511.81,88.31 L513.10,87.85 L514.40,87.40 L515.69,86.96 L516.99,86.53 L518.28,86.11 L519.57,85.69 L520.87,85.29 L522.16,84.89 L523.46,84.49 L524.75,84.11 L526.05,83.73 L527.34,83.35 L528.64,82.98 L529.93,82.61 L531.23,82.25 L532.52,81.89 L533.81,81.53 L535.11,81.18 L536.40,80.82 L537.70,80.47 L538.99,80.12 L540.29,79.77 L541.58,79.42 L542.88,79.06 L544.17,78.71 L545.46,78.35 L546.76,78.00 L548.05,77.63 L549.35,77.27 L550.64,76.90 L551.94,76.53 L553.23,76.15 L554.53,75.77 L555.82,75.39 L557.11,75.00 L558.41,74.61 L559.70,74.21 L561.00,73.81 L562.29,73.41 L563.59,73.01 L564.88,72.60 L566.18,72.19 L567.47,71.77 L568.76,71.36 L570.06,70.94 L571.35,70.52 L572.65,70.10 L573.94,69.67 L575.24,69.25 L576.53,68.82 L577.83,68.39 L579.12,67.96 L580.42,67.53 L581.71,67.10 L583.00,66.67 L584.30,66.24 L585.59,65.81 L586.89,65.37 L588.18,64.94 L589.48,64.51 L590.77,64.08 L592.07,63.64 L593.36,63.21 L594.65,62.78 L595.95,62.35 L597.24,61.92 L598.54,61.50 L599.83,61.07 L601.13,60.65 L602.42,60.23 L603.72,59.81 L605.01,59.39 L606.30,58.97 L607.60,58.56 L608.89,58.15 L610.19,57.74 L611.48,57.33 L612.78,56.93 L614.07,56.53 L615.37,56.13 L616.66,55.74 L617.95,55.35 L619.25,54.97 L620.54,54.59 L621.84,54.21 L623.13,53.84 L624.43,53.47 L625.72,53.11 L627.02,52.75 L628.31,52.39 L629.61,52.04 L630.90,51.70 L632.19,51.36 L633.49,51.03 L634.78,50.70 L636.08,50.38 L637.37,50.07 L638.67,49.76 L639.96,49.46 L641.26,49.16 L642.55,48.87 L643.84,48.59 L645.14,48.32 L646.43,48.05 L647.73,47.79 L649.02,47.53 L650.32,47.29 L651.61,47.05 L652.91,46.82 L654.20,46.60" fill="none" stroke="#c0c0c0" stroke-width="1.1" stroke-linejoin="round"/>
<g transform="translate(0.15,0.3)"><path d="M396.60,160.00 L397.89,159.26 L399.19,158.51 L400.48,157.75 L401.78,156.98 L403.07,156.20 L404.37,155.41 L405.66,154.61 L406.96,153.80 L408.25,152.99 L409.54,152.16 L410.84,151.32 L412.13,150.48 L413.43,149.63 L414.72,148.77 L416.02,147.90 L417.31,147.03 L418.61,146.15 L419.90,145.27 L421.19,144.38 L422.49,143.48 L423.78,142.58 L425.08,141.68 L426.37,140.77 L427.67,139.86 L428.96,138.94 L430.26,138.02 L431.55,137.10 L432.85,136.17 L434.14,135.25 L435.43,134.32 L436.73,133.39 L438.02,132.46 L439.32,131.52 L440.61,130.59 L441.91,129.66 L443.20,128.72 L444.50,127.79 L445.79,126.86 L447.08,125.93 L448.38,125.00 L449.67,124.07 L450.97,123.15 L452.26,122.23 L453.56,121.31 L454.85,120.39 L456.15,119.48 L457.44,118.57 L458.73,117.66 L460.03,116.76 L461.32,115.87 L462.62,114.98 L463.91,114.09 L465.21,113.22 L466.50,112.34 L467.80,111.48 L469.09,110.62 L470.38,109.77 L471.68,108.93 L472.97,108.09 L474.27,107.26 L475.56,106.45 L476.86,105.64 L478.15,104.84 L479.45,104.05 L480.74,103.27 L482.04,102.50 L483.33,101.74 L484.62,100.99 L485.92,100.25 L487.21,99.53 L488.51,98.81 L489.80,98.11 L491.10,97.42 L492.39,96.75 L493.69,96.09 L494.98,95.44 L496.27,94.81 L497.57,94.19 L498.86,93.58 L500.16,92.99 L501.45,92.42 L502.75,91.86 L504.04,91.31 L505.34,90.78 L506.63,90.26 L507.92,89.76 L509.22,89.26 L510.51,88.78 L511.81,88.31 L513.10,87.85 L514.40,87.40 L515.69,86.96 L516.99,86.53 L518.28,86.11 L519.57,85.69 L520.87,85.29 L522.16,84.89 L523.46,84.49 L524.75,84.11 L526.05,83.73 L527.34,83.35 L528.64,82.98 L529.93,82.61 L531.23,82.25 L532.52,81.89 L533.81,81.53 L535.11,81.18 L536.40,80.82 L537.70,80.47 L538.99,80.12 L540.29,79.77 L541.58,79.42 L542.88,79.06 L544.17,78.71 L545.46,78.35 L546.76,78.00 L548.05,77.63 L549.35,77.27 L550.64,76.90 L551.94,76.53 L553.23,76.15 L554.53,75.77 L555.82,75.39 L557.11,75.00 L558.41,74.61 L559.70,74.21 L561.00,73.81 L562.29,73.41 L563.59,73.01 L564.88,72.60 L566.18,72.19 L567.47,71.77 L568.76,71.36 L570.06,70.94 L571.35,70.52 L572.65,70.10 L573.94,69.67 L575.24,69.25 L576.53,68.82 L577.83,68.39 L579.12,67.96 L580.42,67.53 L581.71,67.10 L583.00,66.67 L584.30,66.24 L585.59,65.81 L586.89,65.37 L588.18,64.94 L589.48,64.51 L590.77,64.08 L592.07,63.64 L593.36,63.21 L594.65,62.78 L595.95,62.35 L597.24,61.92 L598.54,61.50 L599.83,61.07 L601.13,60.65 L602.42,60.23 L603.72,59.81 L605.01,59.39 L606.30,58.97 L607.60,58.56 L608.89,58.15 L610.19,57.74 L611.48,57.33 L612.78,56.93 L614.07,56.53 L615.37,56.13 L616.66,55.74 L617.95,55.35 L619.25,54.97 L620.54,54.59 L621.84,54.21 L623.13,53.84 L624.43,53.47 L625.72,53.11 L627.02,52.75 L628.31,52.39 L629.61,52.04 L630.90,51.70 L632.19,51.36 L633.49,51.03 L634.78,50.70 L636.08,50.38 L637.37,50.07 L638.67,49.76 L639.96,49.46 L641.26,49.16 L642.55,48.87 L643.84,48.59 L645.14,48.32 L646.43,48.05 L647.73,47.79 L649.02,47.53 L650.32,47.29 L651.61,47.05 L652.91,46.82 L654.20,46.60" fill="none" stroke="#707070" stroke-width="0.3" stroke-linejoin="round"/></g>
<circle cx="396.60" cy="160.00" r="1.15" fill="#000"/>
<circle cx="448.10" cy="125.20" r="1.15" fill="#000"/>
<circle cx="499.70" cy="93.20" r="1.15" fill="#000"/>
<circle cx="551.00" cy="76.80" r="1.15" fill="#000"/>
<circle cx="602.50" cy="60.20" r="1.15" fill="#000"/>
<circle cx="654.20" cy="46.60" r="1.15" fill="#000"/>
<defs><filter id="tb" x="-20%" y="-20%" width="140%" height="140%"><feConvolveMatrix order="3" kernelMatrix="0.1 0.4 0.1 0.4 5 0.4 0.1 0.4 0.1" divisor="7.0" edgeMode="none" preserveAlpha="false"/></filter></defs>
<g filter="url(#tb)">
<text transform="translate(18.3,297.10) scale(0.9,1.16)" font-size="4.5" fill="#4d4d4d" text-anchor="end">0.00</text>
<text transform="translate(18.3,227.95) scale(0.9,1.16)" font-size="4.5" fill="#4d4d4d" text-anchor="end">0.25</text>
<text transform="translate(18.3,158.80) scale(0.9,1.16)" font-size="4.5" fill="#4d4d4d" text-anchor="end">0.50</text>
<text transform="translate(18.3,89.65) scale(0.9,1.16)" font-size="4.5" fill="#4d4d4d" text-anchor="end">0.75</text>
<text transform="translate(18.3,20.50) scale(0.9,1.16)" font-size="4.5" fill="#4d4d4d" text-anchor="end">1.00</text>
<text transform="translate(363.3,297.10) scale(0.9,1.16)" font-size="4.5" fill="#4d4d4d" text-anchor="end">0.00</text>
<text transform="translate(363.3,227.95) scale(0.9,1.16)" font-size="4.5" fill="#4d4d4d" text-anchor="end">0.25</text>
<text transform="translate(363.3,158.80) scale(0.9,1.16)" font-size="4.5" fill="#4d4d4d" text-anchor="end">0.50</text>
<text transform="translate(363.3,89.65) scale(0.9,1.16)" font-size="4.5" fill="#4d4d4d" text-anchor="end">0.75</text>
<text transform="translate(363.3,20.50) scale(0.9,1.16)" font-size="4.5" fill="#4d4d4d" text-anchor="end">1.00</text>
<text transform="translate(43.20,313.9) rotate(-45) scale(0.95,1.12)" font-size="4.6" fill="#4d4d4d" text-anchor="end">2004-2005</text>
<text transform="translate(77.89,313.9) rotate(-45) scale(0.95,1.12)" font-size="4.6" fill="#4d4d4d" text-anchor="end">2006-2007</text>
<text transform="translate(112.58,313.9) rotate(-45) scale(0.95,1.12)" font-size="4.6" fill="#4d4d4d" text-anchor="end">2008-2009</text>
<text transform="translate(147.27,313.9) rotate(-45) scale(0.95,1.12)" font-size="4.6" fill="#4d4d4d" text-anchor="end">2010-2011</text>
<text transform="translate(181.96,313.9) rotate(-45) scale(0.95,1.12)" font-size="4.6" fill="#4d4d4d" text-anchor="end">2012-2013</text>
<text transform="translate(216.65,313.9) rotate(-45) scale(0.95,1.12)" font-size="4.6" fill="#4d4d4d" text-anchor="end">2014-2015</text>
<text transform="translate(251.34,313.9) rotate(-45) scale(0.95,1.12)" font-size="4.6" fill="#4d4d4d" text-anchor="end">2016-2017</text>
<text transform="translate(286.03,313.9) rotate(-45) scale(0.95,1.12)" font-size="4.6" fill="#4d4d4d" text-anchor="end">2018-2019</text>
<text transform="translate(320.72,313.9) rotate(-45) scale(0.95,1.12)" font-size="4.6" fill="#4d4d4d" text-anchor="end">2020-2021</text>
<text transform="translate(398.40,313.9) rotate(-45) scale(0.95,1.12)" font-size="4.6" fill="#4d4d4d" text-anchor="end">2012-2013</text>
<text transform="translate(449.95,313.9) rotate(-45) scale(0.95,1.12)" font-size="4.6" fill="#4d4d4d" text-anchor="end">2014-2015</text>
<text transform="translate(501.50,313.9) rotate(-45) scale(0.95,1.12)" font-size="4.6" fill="#4d4d4d" text-anchor="end">2016-2017</text>
<text transform="translate(553.05,313.9) rotate(-45) scale(0.95,1.12)" font-size="4.6" fill="#4d4d4d" text-anchor="end">2018-2019</text>
<text transform="translate(604.60,313.9) rotate(-45) scale(0.95,1.12)" font-size="4.6" fill="#4d4d4d" text-anchor="end">2020-2021</text>
<text transform="translate(656.15,313.9) rotate(-45) scale(0.95,1.12)" font-size="4.6" fill="#4d4d4d" text-anchor="end">2022-2023</text>
</g><g opacity="0.999">
<text x="180" y="335.0" font-size="5.3" fill="#000" stroke="#000" stroke-width="0.12" text-anchor="middle">Year</text>
<text x="525.5" y="335.0" font-size="5.3" fill="#000" stroke="#000" stroke-width="0.12" text-anchor="middle">Year</text>
<text transform="translate(7.4,157) rotate(-90)" font-size="5.2" fill="#000" stroke="#000" stroke-width="0.18" text-anchor="middle">Proportion</text>
<text transform="translate(352.9,157) rotate(-90)" font-size="5.2" fill="#000" stroke="#000" stroke-width="0.18" text-anchor="middle">Proportion</text>
<text x="-0.9" y="4.85" font-size="7.5" fill="#000">a</text>
<text x="344.9" y="4.75" font-size="7.5" fill="#000">b</text>
</g>
</svg>
</body></html>
